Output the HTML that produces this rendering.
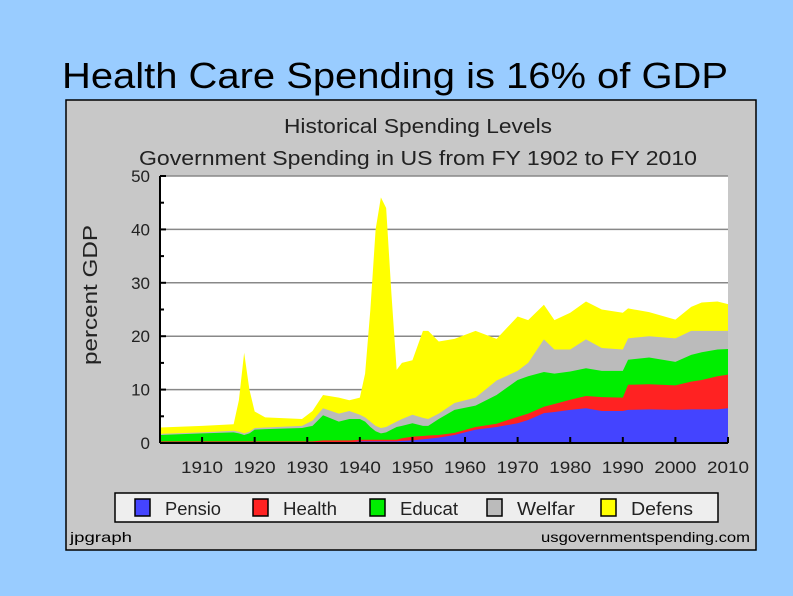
<!DOCTYPE html>
<html><head><meta charset="utf-8"><style>
body{margin:0;width:793px;height:596px;background:#99ccff;overflow:hidden;font-family:"Liberation Sans",sans-serif}
svg{position:absolute;left:0;top:0}
</style></head><body>
<svg width="793" height="596">
<text x="62" y="88" font-size="36" textLength="666" lengthAdjust="spacingAndGlyphs" fill="#000">Health Care Spending is 16% of GDP</text>
<rect x="66" y="100" width="690" height="450" fill="#c8c8c8" stroke="#000" stroke-width="1.5"/>
<text x="284" y="133" font-size="20" textLength="268" lengthAdjust="spacingAndGlyphs" fill="#222">Historical Spending Levels</text>
<text x="139" y="165" font-size="20" textLength="558" lengthAdjust="spacingAndGlyphs" fill="#222">Government Spending in US from FY 1902 to FY 2010</text>
<rect x="160" y="176" width="568" height="267" fill="#fff"/>
<g id="grid"></g>
<g id="areas"></g>
<g id="axes"></g>
<text transform="translate(97,365) rotate(-90)" font-size="20" textLength="140" lengthAdjust="spacingAndGlyphs" fill="#222">percent GDP</text>
<rect x="115" y="493" width="603" height="29" fill="#eee" stroke="#000" stroke-width="1.5"/>
<g id="legend"></g>
<text x="70" y="542" font-size="14" textLength="62" lengthAdjust="spacingAndGlyphs" fill="#000">jpgraph</text>
<text x="541" y="542" font-size="14" textLength="209" lengthAdjust="spacingAndGlyphs" fill="#000">usgovernmentspending.com</text>
</svg>
<script>
const years=[1902,1910,1916,1917,1918,1919,1920,1922,1929,1931,1933,1936,1938,1940,1941,1942,1943,1944,1945,1946,1947,1948,1950,1952,1953,1955,1958,1962,1966,1970,1972,1975,1977,1980,1983,1986,1990,1991,1995,2000,2003,2005,2008,2010];
// stacked cumulative levels (percent GDP) for each series
const pensionLevel=[0,0,0,0,0,0,0,0,0,0,0,0,0.1,0.3,0.3,0.3,0.3,0.3,0.3,0.3,0.3,0.4,0.5,0.7,0.8,1,1.5,2.5,3,3.7,4.3,5.6,5.8,6.2,6.5,6,6,6.2,6.3,6.2,6.3,6.3,6.3,6.5];
const healthLevel=[0.3,0.3,0.3,0.3,0.3,0.3,0.3,0.3,0.3,0.3,0.5,0.5,0.5,0.6,0.6,0.6,0.6,0.6,0.6,0.6,0.6,0.9,1.2,1.3,1.4,1.5,1.9,3.0,3.6,4.9,5.5,6.8,7.3,8.1,8.8,8.6,8.5,10.9,11,10.8,11.5,11.8,12.5,12.8];
const educationLevel=[1.5,1.8,2.0,1.8,1.5,1.8,2.5,2.6,2.8,3.2,5.2,4,4.5,4.5,4,3,2.2,1.8,2,2.5,3,3.2,3.7,3.2,3.2,4.5,6.2,7,9,11.8,12.5,13.3,13,13.4,14,13.5,13.5,15.6,16,15.2,16.5,17,17.5,17.6];
const welfareLevel=[1.7,2,2.3,2.1,1.8,2.1,2.8,2.9,3.2,4.2,6.5,5.5,6,5.3,4.8,4,3.2,2.8,3,3.5,4,4.5,5.3,4.7,4.5,5.5,7.5,8.5,11.7,13.5,15,19.4,17.5,17.5,19.4,17.8,17.5,19.6,20,19.6,21,21,21,21];
const defenseLevel=[2.9,3.2,3.5,8,16.9,10,5.9,4.8,4.5,6,9,8.5,8,8.5,13,25,40,46,44,28,13.7,15,15.5,21,21,19,19.5,21,19.5,23.7,23,25.9,23,24.4,26.5,25,24.4,25.2,24.5,23.1,25.5,26.3,26.5,26];
const seriesNames=["Pensio","Health","Educat","Welfar","Defens"];
const seriesColors=["#4444ff","#ff2222","#00ee00","#bbbbbb","#ffff00"];
const yTicks=[0,10,20,30,40,50];
const xTicks=[1910,1920,1930,1940,1950,1960,1970,1980,1990,2000,2010];

const NS="http://www.w3.org/2000/svg";
const X=y=>160+(y-1902)*(568/108);
const Y=v=>443-v*(267/50);
function mk(t,a,p){const e=document.createElementNS(NS,t);for(const k in a)e.setAttribute(k,a[k]);p.appendChild(e);return e;}
const grid=document.getElementById('grid'),areas=document.getElementById('areas'),axes=document.getElementById('axes'),leg=document.getElementById('legend');
yTicks.forEach(v=>{if(v>0){const l=mk('line',{x1:160,x2:728,y1:Y(v),y2:Y(v),stroke:'#888','stroke-width':1.5},grid);

}
const t=mk('text',{x:150,y:Y(v)+6,'font-size':17,'text-anchor':'end',fill:'#222'},axes);t.textContent=v;


mk('line',{x1:160,x2:166,y1:Y(v),y2:Y(v),stroke:'#000','stroke-width':2},axes);
if(v<50)mk('line',{x1:160,x2:164,y1:Y(v+5),y2:Y(v+5),stroke:'#000','stroke-width':2},axes);});
const levels=[pensionLevel,healthLevel,educationLevel,welfareLevel,defenseLevel];
for(let s=4;s>=0;s--){
 const top=levels[s];
 let d='M'+X(years[0])+','+Y(0);
 years.forEach((yr,i)=>{d+=' L'+X(yr)+','+Y(top[i]);});
 d+=' L'+X(years[years.length-1])+','+Y(0)+' Z';
 const p=mk('path',{d:d,fill:seriesColors[s]},areas);
 
 
}
mk('line',{x1:160,x2:160,y1:176,y2:443,stroke:'#000','stroke-width':2},axes);
mk('line',{x1:160,x2:728,y1:443,y2:443,stroke:'#000','stroke-width':2},axes);
xTicks.forEach(yr=>{mk('line',{x1:X(yr),x2:X(yr),y1:437,y2:443,stroke:'#000','stroke-width':2},axes);
const t=mk('text',{x:X(yr)-21,y:473,'font-size':17,textLength:42,lengthAdjust:'spacingAndGlyphs',fill:'#222'},axes);t.textContent=yr;

});
const lx=[135,253,370,487,601];
const lw=[56,54,58,58,62];
seriesNames.forEach((n,i)=>{
 const r=mk('rect',{x:lx[i],y:499,width:15,height:17,fill:seriesColors[i],stroke:'#000','stroke-width':1.5},leg);
 
 
 const t=mk('text',{x:lx[i]+30,y:515,'font-size':18,textLength:lw[i],lengthAdjust:'spacingAndGlyphs',fill:'#222'},leg);t.textContent=n;
 
 
});
</script>
</body></html>
